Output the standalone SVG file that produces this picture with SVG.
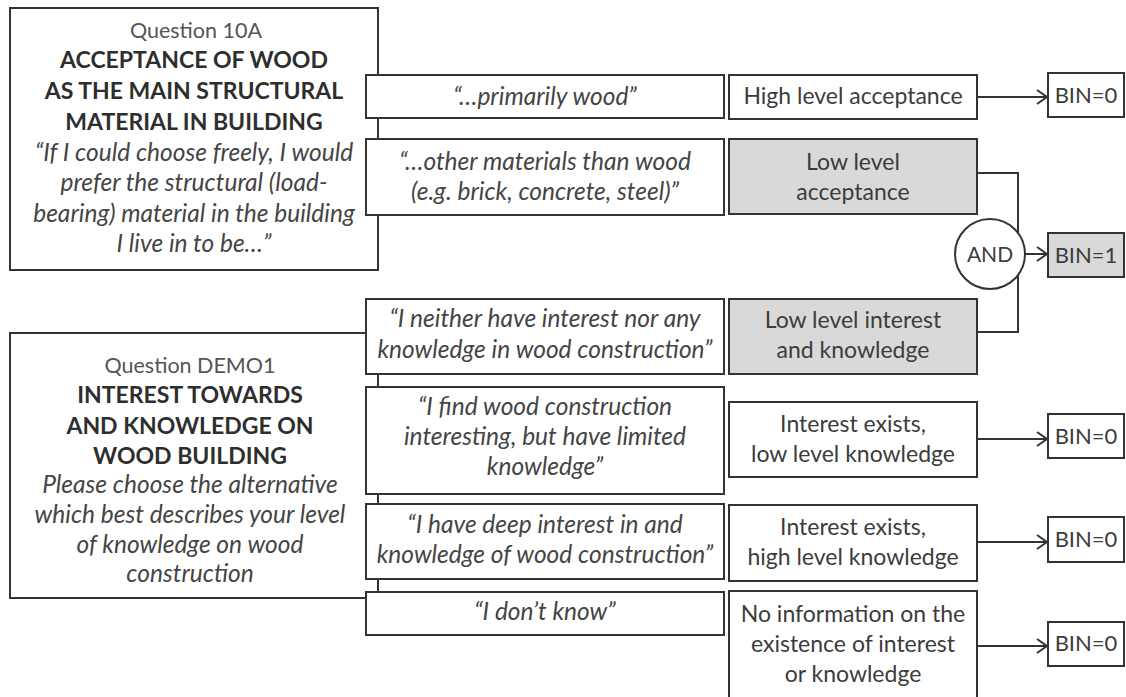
<svg xmlns="http://www.w3.org/2000/svg" width="1126" height="697" viewBox="0 0 1126 697">
<defs>
<style>
.box{fill:#fff;stroke:#333;stroke-width:2}
.gray{fill:#d9d9d9;stroke:#333;stroke-width:2}
.ln{fill:none;stroke:#333;stroke-width:2}
text{font-family:Lato,"Open Sans","Liberation Sans",sans-serif;font-size:23px;fill:#3c3c3c;text-anchor:middle}
.q{fill:#555;font-size:21.5px}
.b{font-weight:bold;fill:#2e2e2e;font-size:23px}
.i{font-style:italic;fill:#454545;font-size:24.5px}
.bin{font-size:22px}
.and{font-size:21px}
</style>
<marker id="arr" markerWidth="12" markerHeight="16" refX="11" refY="8" orient="auto" markerUnits="userSpaceOnUse">
<path d="M1,1 L11,8 L1,15" fill="none" stroke="#333" stroke-width="2"/>
</marker>
</defs>
<rect width="1126" height="697" fill="#fff"/>

<g id="q10a">
<rect class="box" x="10" y="8" width="368" height="262"/>
<text class="q" x="196" y="38">Question 10A</text>
<text class="b" x="194" y="68">ACCEPTANCE OF WOOD</text>
<text class="b" x="194" y="99">AS THE MAIN STRUCTURAL</text>
<text class="b" x="194" y="130">MATERIAL IN BUILDING</text>
<text class="i" x="194" y="161">“If I could choose freely, I would</text>
<text class="i" x="194" y="191">prefer the structural (load-</text>
<text class="i" x="194" y="222">bearing) material in the building</text>
<text class="i" x="194" y="252">I live in to be…”</text>
</g>

<g id="demo1">
<rect class="box" x="10" y="333" width="368" height="265"/>
<text class="q" x="190" y="373">Question DEMO1</text>
<text class="b" x="190" y="403">INTEREST TOWARDS</text>
<text class="b" x="190" y="434">AND KNOWLEDGE ON</text>
<text class="b" x="190" y="464">WOOD BUILDING</text>
<text class="i" x="190" y="493">Please choose the alternative</text>
<text class="i" x="190" y="523">which best describes your level</text>
<text class="i" x="190" y="553">of knowledge on wood</text>
<text class="i" x="190" y="582">construction</text>
</g>

<g id="connectors">
<path class="ln" d="M977,173 H1018 V332 H977"/>
<line class="ln" x1="977" y1="97" x2="1047" y2="97" marker-end="url(#arr)"/>
<line class="ln" x1="1025" y1="254" x2="1047" y2="254" marker-end="url(#arr)"/>
<line class="ln" x1="977" y1="439" x2="1047" y2="439" marker-end="url(#arr)"/>
<line class="ln" x1="977" y1="542" x2="1047" y2="542" marker-end="url(#arr)"/>
<line class="ln" x1="977" y1="646" x2="1047" y2="646" marker-end="url(#arr)"/>
</g>

<g id="opt1"><rect class="box" x="366" y="75" width="358" height="43"/>
<text class="i" x="545" y="105">“…primarily wood”</text></g>
<g id="opt2"><rect class="box" x="366" y="139" width="358" height="76"/>
<text class="i" x="545" y="170">“…other materials than wood</text>
<text class="i" x="545" y="200">(e.g. brick, concrete, steel)”</text></g>
<g id="opt3"><rect class="box" x="366" y="299" width="358" height="75"/>
<text class="i" x="545" y="327">“I neither have interest nor any</text>
<text class="i" x="545" y="358">knowledge in wood construction”</text></g>
<g id="opt4"><rect class="box" x="366" y="387" width="358" height="107"/>
<text class="i" x="545" y="415">“I find wood construction</text>
<text class="i" x="545" y="445">interesting, but have limited</text>
<text class="i" x="545" y="475">knowledge”</text></g>
<g id="opt5"><rect class="box" x="366" y="504" width="358" height="75"/>
<text class="i" x="545" y="533">“I have deep interest in and</text>
<text class="i" x="545" y="563">knowledge of wood construction”</text></g>
<g id="opt6"><rect class="box" x="366" y="592" width="358" height="43"/>
<text class="i" x="545" y="620">“I don’t know”</text></g>

<g id="res1"><rect class="box" x="729" y="75" width="248" height="44"/>
<text x="853" y="104">High level acceptance</text></g>
<g id="res2"><rect class="gray" x="729" y="139" width="248" height="75"/>
<text x="853" y="170">Low level</text>
<text x="853" y="200">acceptance</text></g>
<g id="res3"><rect class="gray" x="729" y="299" width="248" height="75"/>
<text x="853" y="328">Low level interest</text>
<text x="853" y="358">and knowledge</text></g>
<g id="res4"><rect class="box" x="729" y="402" width="248" height="75"/>
<text x="853" y="432">Interest exists,</text>
<text x="853" y="462">low level knowledge</text></g>
<g id="res5"><rect class="box" x="729" y="505" width="248" height="76"/>
<text x="853" y="535">Interest exists,</text>
<text x="853" y="565">high level knowledge</text></g>
<g id="res6"><rect class="box" x="729" y="591" width="248" height="110"/>
<text x="853" y="622">No information on the</text>
<text x="853" y="652">existence of interest</text>
<text x="853" y="682">or knowledge</text></g>

<g id="and"><circle class="box" cx="990" cy="254" r="35"/>
<text class="and" x="990" y="262">AND</text></g>

<g id="bin1"><rect class="box" x="1048" y="73" width="76" height="44"/>
<text class="bin" x="1086" y="103">BIN=0</text></g>
<g id="bin2"><rect class="gray" x="1048" y="233" width="76" height="44"/>
<text class="bin" x="1086" y="263">BIN=1</text></g>
<g id="bin3"><rect class="box" x="1048" y="414" width="76" height="44"/>
<text class="bin" x="1086" y="444">BIN=0</text></g>
<g id="bin4"><rect class="box" x="1048" y="517" width="76" height="45"/>
<text class="bin" x="1086" y="547">BIN=0</text></g>
<g id="bin5"><rect class="box" x="1048" y="622" width="76" height="44"/>
<text class="bin" x="1086" y="651">BIN=0</text></g>
</svg>
